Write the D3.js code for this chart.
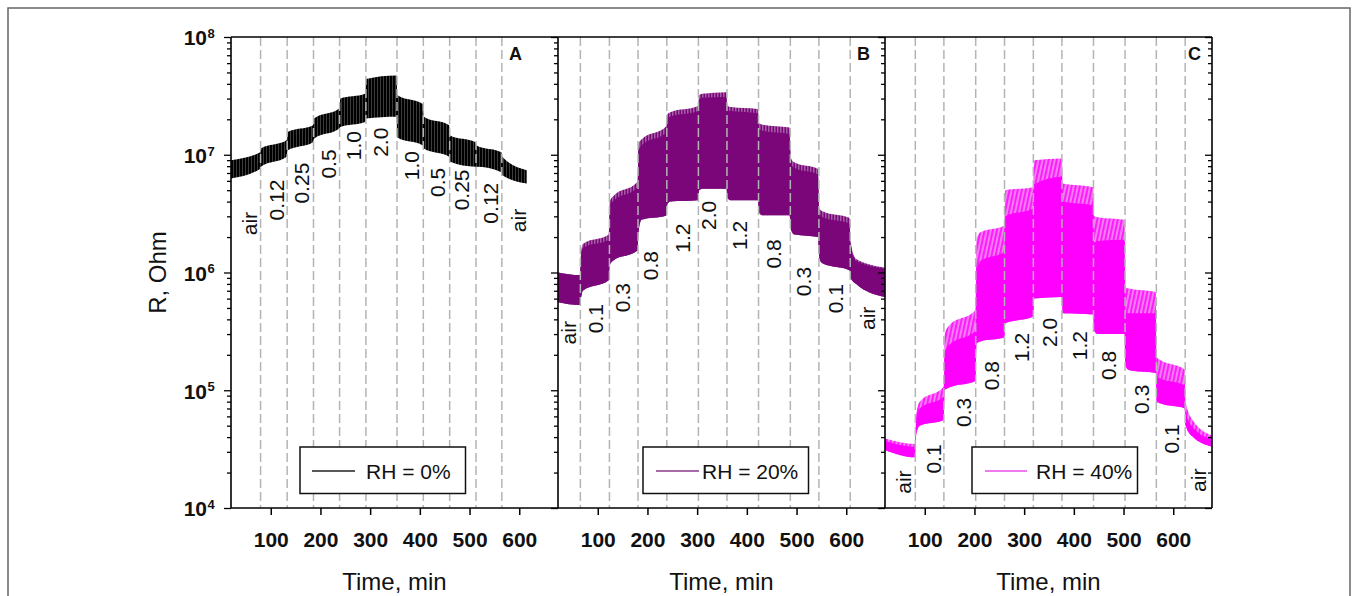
<!DOCTYPE html>
<html>
<head>
<meta charset="utf-8">
<script src="https://cdn.jsdelivr.net/npm/d3@7/dist/d3.min.js"></script>
<style>
  html, body { margin: 0; padding: 0; background: #fff; }
  svg { display: block; font-family: "Liberation Sans", Arial, sans-serif; }
</style>
</head>
<body>
<svg id="chart" width="1358" height="596"></svg>
<script>
// ---------------- DATA ----------------
const timeA  = [20, 79, 80, 132, 134, 185, 187, 238, 240, 290, 292, 353, 355, 406, 408, 459, 461, 512, 514, 564, 566, 615];
const upperA = [9.0e6, 1.05e7, 1.13e7, 1.33e7, 1.56e7, 1.78e7, 2.03e7, 2.47e7, 3.0e7, 3.3e7, 4.4e7, 4.7e7, 3.2e7, 2.7e7, 2.1e7, 1.78e7, 1.46e7, 1.28e7, 1.2e7, 1.05e7, 9.6e6, 7.4e6];
const lowerA = [6.3e6, 7.6e6, 7.9e6, 9.6e6, 1.09e7, 1.28e7, 1.37e7, 1.67e7, 1.72e7, 1.9e7, 2.03e7, 2.1e7, 1.4e7, 1.2e7, 1.13e7, 9.6e6, 8.7e6, 7.9e6, 7.9e6, 7.1e6, 6.7e6, 5.7e6];

const timeB  = [20, 64, 66, 70, 122, 124, 130, 180, 182, 188, 238, 240, 246, 302, 304, 310, 359, 361, 368, 422, 425, 432, 486, 489, 496, 543, 546, 553, 607, 609, 620, 678];
const upperB = [1.0e6, 9.5e5, 1.4e6, 1.75e6, 2.1e6, 4.0e6, 4.4e6, 5.9e6, 1.25e7, 1.35e7, 1.75e7, 2.2e7, 2.3e7, 2.6e7, 3.2e7, 3.3e7, 3.4e7, 2.6e7, 2.55e7, 2.45e7, 1.85e7, 1.8e7, 1.7e7, 9.3e6, 8.6e6, 7.6e6, 3.5e6, 3.3e6, 2.9e6, 1.8e6, 1.3e6, 1.1e6];
const coreB  = [1.0e6, 9.5e5, 1.35e6, 1.62e6, 1.9e6, 3.6e6, 4.0e6, 5.3e6, 1.1e7, 1.2e7, 1.55e7, 2.0e7, 2.1e7, 2.35e7, 2.95e7, 3.05e7, 3.1e7, 2.4e7, 2.35e7, 2.25e7, 1.65e7, 1.6e7, 1.5e7, 8.4e6, 7.7e6, 6.8e6, 3.15e6, 2.95e6, 2.6e6, 1.7e6, 1.25e6, 1.08e6];
const lowerB = [5.6e5, 5.3e5, 6.0e5, 7.0e5, 8.6e5, 1.15e6, 1.25e6, 1.54e6, 2.2e6, 2.8e6, 3.05e6, 3.8e6, 4.0e6, 4.1e6, 5.0e6, 5.15e6, 5.15e6, 4.3e6, 4.1e6, 4.1e6, 3.2e6, 3.06e6, 3.06e6, 2.3e6, 2.1e6, 2.0e6, 1.3e6, 1.19e6, 1.04e6, 9.0e5, 8.0e5, 6.2e5];

const timeC  = [20, 80, 83, 90, 138, 140, 148, 202, 204, 212, 260, 262, 318, 320, 376, 378, 439, 441, 448, 502, 504, 512, 565, 567, 575, 623, 625, 640, 680];
const upperC = [3.9e4, 3.5e4, 6.3e4, 8.0e4, 1.07e5, 3.0e5, 3.5e5, 4.8e5, 1.9e6, 2.2e6, 2.5e6, 5.0e6, 5.3e6, 9.0e6, 9.3e6, 5.7e6, 5.3e6, 3.0e6, 2.95e6, 2.8e6, 7.5e5, 7.3e5, 6.8e5, 1.9e5, 1.8e5, 1.5e5, 8.0e4, 5.5e4, 4.1e4];
const coreC  = [3.7e4, 3.3e4, 5.6e4, 7.0e4, 8.8e4, 2.1e5, 2.4e5, 3.2e5, 1.0e6, 1.25e6, 1.5e6, 3.0e6, 3.5e6, 5.6e6, 6.5e6, 4.0e6, 3.7e6, 1.8e6, 1.85e6, 1.9e6, 4.5e5, 4.5e5, 4.5e5, 1.3e5, 1.25e5, 1.1e5, 6.5e4, 4.8e4, 3.8e4];
const lowerC = [3.1e4, 2.7e4, 4.3e4, 5.0e4, 5.6e4, 1.0e5, 1.05e5, 1.2e5, 2.5e5, 2.6e5, 2.8e5, 3.7e5, 4.2e5, 6.0e5, 6.2e5, 4.5e5, 4.4e5, 3.2e5, 3.0e5, 3.0e5, 1.6e5, 1.48e5, 1.4e5, 8.0e4, 7.7e4, 7.0e4, 5.0e4, 4.0e4, 3.3e4];

const dashA = [79.5, 133, 186, 238.5, 291.5, 354, 407, 460, 513, 565];
const dashB = [65, 123.5, 181, 239, 302.5, 360, 423.5, 487.5, 545, 608];
const dashC = [81, 138.5, 202.5, 260.5, 318.5, 376, 439.5, 503, 566, 624];

const labelTextA = ["air", "0.12", "0.25", "0.5", "1.0", "2.0", "1.0", "0.5", "0.25", "0.12", "air"];
const labelTimeA = [58, 112, 162.5, 216, 266.5, 321.5, 384, 434.5, 484.5, 541.5, 598.5];
const labelRA    = [2.07e6, 2.77e6, 3.85e6, 6.27e6, 8.98e6, 9.6e6, 6.07e6, 4.38e6, 3.37e6, 2.6e6, 2.2e6];

const labelTextB = ["air", "0.1", "0.3", "0.8", "1.2", "2.0", "1.2", "0.8", "0.3", "0.1", "air"];
const labelTimeB = [41, 95, 149, 206, 270, 323, 386, 453, 514, 578, 642];
const labelRB    = [2.45e5, 3.05e5, 4.6e5, 8.6e5, 1.47e6, 2.3e6, 1.55e6, 1.08e6, 6.3e5, 4.5e5, 3.25e5];

const labelTextC = ["air", "0.1", "0.3", "0.8", "1.2", "2.0", "1.2", "0.8", "0.3", "0.1", "air"];
const labelTimeC = [56.5, 117, 177, 234.5, 294.5, 351.5, 412, 469, 536.5, 596.5, 650.5];
const labelRC    = [1.32e4, 1.96e4, 4.88e4, 1.0e5, 1.74e5, 2.33e5, 1.8e5, 1.22e5, 6.3e4, 2.9e4, 1.37e4];

const xTicks = [100, 200, 300, 400, 500, 600];
const yMajorTicks = [1e4, 1e5, 1e6, 1e7, 1e8];
const yTickExp = ["4", "5", "6", "7", "8"];
const legendLabels = ["RH = 0%", "RH = 20%", "RH = 40%"];
const panelLetters = ["A", "B", "C"];
const xTitle = "Time, min";
const yTitle = "R, Ohm";

// ---------------- LAYOUT ----------------
const svg = d3.select("#chart");
const plotTop = 37, plotBottom = 508, panelW = 327;
const panelLefts = [231, 558, 885];
const xDomain = [20, 678];

const y = d3.scaleLog().domain([1e4, 1e8]).range([plotBottom, plotTop]);

const panels = [
  { t: timeA, up: upperA, core: null, lo: lowerA, dash: dashA, lt: labelTextA, lx: labelTimeA, lr: labelRA,
    fillOuter: "url(#stripesA)", fillCore: null, legendColor: "#222", legendBox: 69, lineX: [12, 55], textX: 66, letterOff: 36 },
  { t: timeB, up: upperB, core: coreB, lo: lowerB, dash: dashB, lt: labelTextB, lx: labelTimeB, lr: labelRB,
    fillOuter: "url(#stripesB)", fillCore: "#7a067a", legendColor: "#8b3a8b", legendBox: 85, lineX: [13, 56], textX: 59, letterOff: 15 },
  { t: timeC, up: upperC, core: coreC, lo: lowerC, dash: dashC, lt: labelTextC, lx: labelTimeC, lr: labelRC,
    fillOuter: "url(#stripesC)", fillCore: "#ff00ff", legendColor: "#e84ee8", legendBox: 87, lineX: [13, 55], textX: 64, letterOff: 11 }
];

// outer figure frame
svg.append("rect").attr("x", 8).attr("y", 8).attr("width", 1342).attr("height", 640)
  .attr("fill", "none").attr("stroke", "#666").attr("stroke-width", 1.5);

// texture patterns (styling only)
const defs = svg.append("defs");
function stripes(id, w, base, stripe, sw, angle) {
  const p = defs.append("pattern").attr("id", id).attr("patternUnits", "userSpaceOnUse")
    .attr("width", w).attr("height", 12);
  if (angle) p.attr("patternTransform", `rotate(${angle})`);
  p.append("rect").attr("width", w).attr("height", 12).attr("fill", base);
  p.append("rect").attr("x", w - sw).attr("width", sw).attr("height", 12).attr("fill", stripe);
}
stripes("stripesA", 3, "#000", "#3c3c3c", 1, 0);
stripes("stripesB", 3, "#a45ca4", "#7a067a", 1.5, 0);
stripes("stripesC", 4, "#f27ef2", "#ff1cff", 2, 12);

panels.forEach((p, i) => {
  const left = panelLefts[i];
  const x = d3.scaleLinear().domain(xDomain).range([left, left + panelW]);
  const g = svg.append("g");

  defs.append("clipPath").attr("id", "clip" + i).append("rect")
    .attr("x", left).attr("y", plotTop).attr("width", panelW).attr("height", plotBottom - plotTop);

  const idx = d3.range(p.t.length);
  const areaOuter = d3.area().curve(d3.curveMonotoneX)
    .x(k => x(p.t[k])).y0(k => y(p.lo[k])).y1(k => y(p.up[k]));
  g.append("path").datum(idx).attr("clip-path", `url(#clip${i})`)
    .attr("d", areaOuter).attr("fill", p.fillOuter);
  if (p.core) {
    const areaCore = d3.area().curve(d3.curveMonotoneX)
      .x(k => x(p.t[k])).y0(k => y(p.lo[k])).y1(k => y(p.core[k]));
    g.append("path").datum(idx).attr("clip-path", `url(#clip${i})`)
      .attr("d", areaCore).attr("fill", p.fillCore);
  }

  // dashed separators (on top of data)
  g.selectAll("line.dash").data(p.dash).enter().append("line")
    .attr("x1", d => x(d)).attr("x2", d => x(d))
    .attr("y1", plotTop).attr("y2", plotBottom)
    .attr("stroke", "#b4b4b4").attr("stroke-width", 1.5).attr("stroke-dasharray", "9,4");

  // concentration labels
  g.selectAll("text.conc").data(p.lt).enter().append("text")
    .attr("transform", (d, k) => `translate(${x(p.lx[k])},${y(p.lr[k])}) rotate(-90)`)
    .attr("dy", "0.36em").attr("text-anchor", "start")
    .attr("font-size", 21).attr("fill", "#111").text(d => d);

  // x axis
  const xAxis = d3.axisBottom(x).tickValues(xTicks).tickSize(7).tickSizeOuter(0).tickPadding(17)
    .tickFormat(d3.format("d"));
  const xg = svg.append("g").attr("transform", `translate(0,${plotBottom})`).call(xAxis);
  xg.select(".domain").remove();
  xg.selectAll("line").attr("stroke", "#000").attr("stroke-width", 1.5);
  xg.selectAll("text").attr("font-size", 21).attr("font-weight", "bold")
    .attr("font-family", "'Liberation Sans', Arial, sans-serif").attr("fill", "#111");

  // x title
  svg.append("text").attr("x", left + panelW / 2).attr("y", 590)
    .attr("text-anchor", "middle").attr("font-size", 24).attr("fill", "#111").text(xTitle);

  // panel letter
  svg.append("text").attr("x", left + panelW - p.letterOff).attr("y", 60)
    .attr("text-anchor", "end").attr("font-size", 18).attr("font-weight", "bold").attr("fill", "#111")
    .text(panelLetters[i]);

  // legend
  const lb = left + p.legendBox, lyTop = 447, lh = 46.5, lw = 165.5;
  svg.append("rect").attr("x", lb).attr("y", lyTop).attr("width", lw).attr("height", lh)
    .attr("fill", "#fff").attr("stroke", "#111").attr("stroke-width", 1.5);
  svg.append("line").attr("x1", lb + p.lineX[0]).attr("x2", lb + p.lineX[1])
    .attr("y1", 471).attr("y2", 471).attr("stroke", p.legendColor).attr("stroke-width", 1.5);
  svg.append("text").attr("x", lb + p.textX).attr("y", 478.5)
    .attr("font-size", 21).attr("fill", "#111").text(legendLabels[i]);
});

// y axes (ticks pointing left at each panel edge)
const allTicks = y.ticks();
const minorTicks = allTicks.filter(d => !yMajorTicks.includes(d));
[231, 558, 885, 1212].forEach(xp => {
  const gMaj = svg.append("g").attr("transform", `translate(${xp},0)`)
    .call(d3.axisLeft(y).tickValues(yMajorTicks).tickSize(7).tickSizeOuter(0).tickFormat(""));
  const gMin = svg.append("g").attr("transform", `translate(${xp},0)`)
    .call(d3.axisLeft(y).tickValues(minorTicks).tickSize(4).tickSizeOuter(0).tickFormat(""));
  [gMaj, gMin].forEach(g => {
    g.select(".domain").remove();
    g.selectAll("line").attr("stroke", "#000").attr("stroke-width", 1.3);
  });
  svg.append("line").attr("x1", xp).attr("x2", xp).attr("y1", plotTop).attr("y2", plotBottom)
    .attr("stroke", "#000").attr("stroke-width", 1.6);
});
// top and bottom frame lines
[plotTop, plotBottom].forEach(yy => {
  svg.append("line").attr("x1", 231).attr("x2", 1212).attr("y1", yy).attr("y2", yy)
    .attr("stroke", "#000").attr("stroke-width", 1.6);
});

// y tick labels 10^n
yMajorTicks.forEach((v, k) => {
  const yy = y(v);
  svg.append("text").attr("x", 207).attr("y", yy + 8.3).attr("text-anchor", "end")
    .attr("font-size", 21).attr("font-weight", "bold").attr("fill", "#111").text("10");
  svg.append("text").attr("x", 207.5).attr("y", yy + 0.8).attr("text-anchor", "start")
    .attr("font-size", 13).attr("font-weight", "bold").attr("fill", "#111").text(yTickExp[k]);
});

// y title
svg.append("text").attr("transform", `translate(166,${(plotTop + plotBottom) / 2}) rotate(-90)`)
  .attr("text-anchor", "middle").attr("font-size", 24).attr("fill", "#111").text(yTitle);
</script>
</body>
</html>
